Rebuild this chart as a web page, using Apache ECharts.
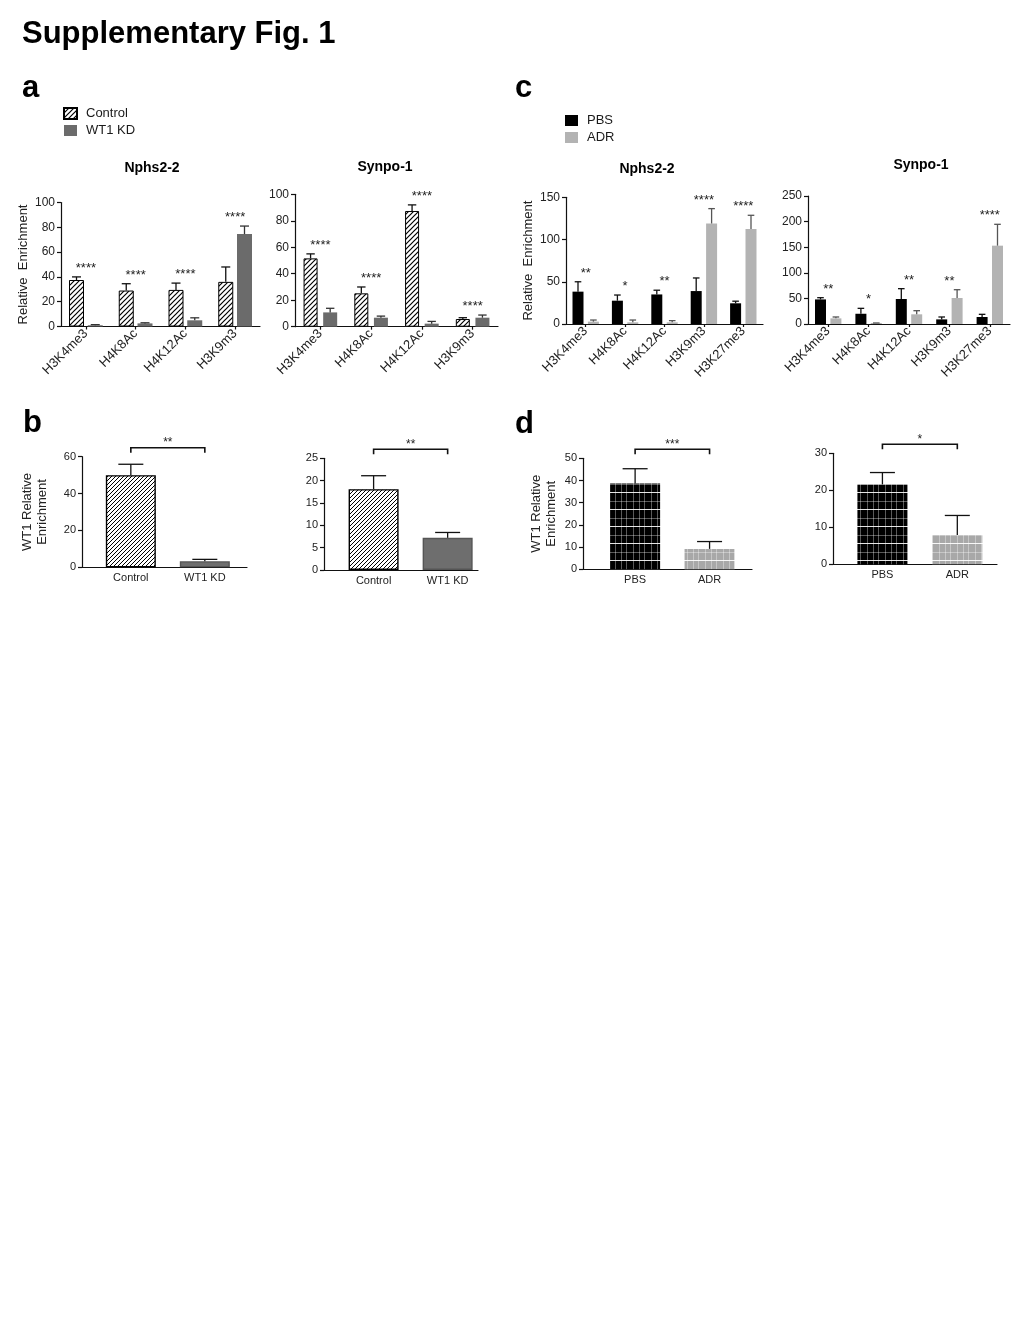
<!DOCTYPE html>
<html>
<head>
<meta charset="utf-8">
<title>Supplementary Fig. 1</title>
<script src="https://cdn.jsdelivr.net/npm/echarts@6.0.0/dist/echarts.min.js"></script>
<style>
  html, body { margin: 0; padding: 0; background: #fff; }
  #chart { width: 1020px; height: 1323px; }
</style>
</head>
<body>
<div id="chart"></div>
<script>
// categories
const histA = ['H3K4me3', 'H4K8Ac', 'H4K12Ac', 'H3K9m3']
const histC = ['H3K4me3', 'H4K8Ac', 'H4K12Ac', 'H3K9m3', 'H3K27me3']
const groupsB = ['Control', 'WT1 KD']
const groupsD = ['PBS', 'ADR']

// a - Nphs2-2
const aNphsCtrl = [37.5, 29, 29.5, 36]
const aNphsCtrlErr = [2.5, 5.5, 5.5, 12]
const aNphsKd = [1, 2.5, 5, 74.5]
const aNphsKdErr = [0.5, 0.5, 2, 6.5]
const aNphsSig = ['****', '****', '****', '****']
// a - Synpo-1
const aSynCtrl = [51.6, 25.2, 87.4, 5.8]
const aSynCtrlErr = [3.4, 4.8, 4.6, 1]
const aSynKd = [10.8, 6.8, 2.3, 6.8]
const aSynKdErr = [3.1, 1.2, 1.7, 2]
const aSynSig = ['****', '****', '****', '****']
// c - Nphs2-2
const cNphsPbs = [38.3, 27.6, 35, 39, 24.5]
const cNphsPbsErr = [11.7, 6.7, 5, 15.5, 2.5]
const cNphsAdr = [2.8, 2, 2, 119, 112.5]
const cNphsAdrErr = [1.9, 2.7, 2, 17.6, 16.2]
const cNphsSig = ['**', '*', '**', '****', '****']
// c - Synpo-1
const cSynPbs = [48, 20, 48.8, 9, 13.7]
const cSynPbsErr = [3.4, 10.6, 20.2, 4.7, 5.2]
const cSynAdr = [11, 2, 18.9, 50.8, 153]
const cSynAdrErr = [2.7, 0, 7.1, 16.2, 41.7]
const cSynSig = ['**', '*', '**', '**', '****']
// b - WT1 enrichment
const bLeftVals = [50, 3.3]
const bLeftErr = [5.9, 1.0]
const bRightVals = [18.1, 7.2]
const bRightErr = [3.0, 1.2]
const bSig = ['**', '**']
// d - WT1 enrichment
const dLeftVals = [38.7, 9.2]
const dLeftErr = [6.6, 3.3]
const dRightVals = [21.6, 7.9]
const dRightErr = [3.2, 5.3]
const dSig = ['***', '*']

// y axes: [min, max, step]
const aNphsY = [0, 100, 20]
const aSynY = [0, 100, 20]
const cNphsY = [0, 150, 50]
const cSynY = [0, 250, 50]
const bLeftY = [0, 60, 20]
const bRightY = [0, 25, 5]
const dLeftY = [0, 50, 10]
const dRightY = [0, 30, 10]

const FONT = "'Liberation Sans', Arial, Helvetica, sans-serif"
const AXIS = { color: '#111', width: 1.2 }

// fill patterns
const hatch = (size, lw) => {
  const c = document.createElement('canvas')
  c.width = size
  c.height = size
  const g = c.getContext('2d')
  g.fillStyle = '#fff'
  g.fillRect(0, 0, size, size)
  g.strokeStyle = '#000'
  g.lineWidth = lw
  g.beginPath()
  g.moveTo(0, size); g.lineTo(size, 0)
  g.moveTo(-size / 2, size / 2); g.lineTo(size / 2, -size / 2)
  g.moveTo(size / 2, size * 1.5); g.lineTo(size * 1.5, size / 2)
  g.stroke()
  return { image: c, repeat: 'repeat' }
}
const plaid = (bg) => {
  const c = document.createElement('canvas')
  c.width = 18
  c.height = 17
  const g = c.getContext('2d')
  g.fillStyle = bg
  g.fillRect(0, 0, 18, 17)
  g.fillStyle = 'rgba(255,255,255,0.35)'
  g.fillRect(3, 0, 1, 17)
  g.fillRect(9, 0, 1, 17)
  g.fillRect(14, 0, 1, 17)
  g.fillRect(0, 8, 18, 1)
  g.fillStyle = 'rgba(255,255,255,0.9)'
  g.fillRect(0, 16, 18, 1)
  return { image: c, repeat: 'repeat' }
}
const hatchA = hatch(5, 1.2)
const hatchB = hatch(4, 1)

const grids = [
  { left: 61, top: 202.5, width: 199, height: 124 },    // a Nphs2-2
  { left: 295, top: 194.3, width: 203, height: 132.4 }, // a Synpo-1
  { left: 566, top: 197.3, width: 197, height: 126.7 }, // c Nphs2-2
  { left: 808, top: 196, width: 202, height: 128 },     // c Synpo-1
  { left: 82, top: 456.7, width: 165, height: 110.6 },  // b left
  { left: 324, top: 458.3, width: 154, height: 111.7 }, // b right
  { left: 583, top: 458.3, width: 169, height: 111 },   // d left
  { left: 833, top: 453.3, width: 164, height: 111 }    // d right
].map(g => ({ ...g, outerBoundsMode: 'none', containLabel: false }))

const yAxisOf = (gi, ticks, fontSize, name, nameGap) => ({
  type: 'value',
  gridIndex: gi,
  min: ticks[0],
  max: ticks[1],
  interval: ticks[2],
  axisLine: { show: true, onZero: false, lineStyle: AXIS },
  axisTick: { show: true, length: 4, lineStyle: AXIS },
  axisLabel: { fontSize: fontSize, color: '#222', margin: 6, fontFamily: FONT },
  splitLine: { show: false },
  name: name || '',
  nameLocation: 'middle',
  nameRotate: 90,
  nameGap: nameGap || 0,
  nameTextStyle: { fontSize: 13, color: '#222', lineHeight: 15, fontFamily: FONT }
})

const catAxis = (gi, cats) => ({
  type: 'category',
  gridIndex: gi,
  data: cats,
  axisLine: { lineStyle: AXIS },
  axisTick: { show: true, alignWithLabel: true, length: 3, lineStyle: AXIS },
  axisLabel: { rotate: 45, interval: 0, fontSize: 13, color: '#222', margin: 5, fontFamily: FONT },
  splitLine: { show: false }
})

const pairAxis = (gi, cats, min, max) => ({
  type: 'value',
  gridIndex: gi,
  min: min,
  max: max,
  axisLine: { show: true, onZero: false, lineStyle: AXIS },
  axisTick: { show: false },
  splitLine: { show: false },
  axisLabel: {
    customValues: [0, 1],
    formatter: v => cats[Math.round(v)],
    fontSize: 11,
    color: '#222',
    margin: 5,
    fontFamily: FONT
  }
})

// upward error bars with a cap
const errorBars = (gi, vals, errs, shift, capW, color) => ({
  type: 'custom',
  xAxisIndex: gi,
  yAxisIndex: gi,
  z: 3,
  silent: true,
  data: vals.map((v, i) => [i, v, errs[i]]),
  renderItem: (params, api) => {
    const base = api.coord([api.value(0), api.value(1)])
    const top = api.coord([api.value(0), api.value(1) + api.value(2)])
    const x = base[0] + shift
    const style = { stroke: color, lineWidth: 1.3 }
    return {
      type: 'group',
      children: [
        { type: 'line', shape: { x1: x, y1: base[1], x2: x, y2: top[1] }, style },
        { type: 'line', shape: { x1: x - capW / 2, y1: top[1], x2: x + capW / 2, y2: top[1] }, style }
      ]
    }
  }
})

// significance stars over each group
const stars = (gi, sig, tops) => ({
  type: 'custom',
  xAxisIndex: gi,
  yAxisIndex: gi,
  z: 4,
  silent: true,
  data: tops.map((t, i) => [i, t]),
  renderItem: (params, api) => {
    const p = api.coord([api.value(0), api.value(1)])
    return {
      type: 'text',
      x: p[0],
      y: p[1] - 2,
      style: {
        text: sig[params.dataIndex],
        fill: '#222',
        font: '13px ' + FONT,
        textAlign: 'center',
        textVerticalAlign: 'bottom'
      }
    }
  }
})

// bracket between the two bars of panel b / d
const bracket = (gi, yMax, sig) => ({
  type: 'custom',
  xAxisIndex: gi,
  yAxisIndex: gi,
  z: 4,
  silent: true,
  data: [[0, yMax]],
  renderItem: (params, api) => {
    const a = api.coord([0, yMax])
    const b = api.coord([1, yMax])
    const y = a[1] - 9
    return {
      type: 'group',
      children: [
        {
          type: 'polyline',
          shape: { points: [[a[0], y + 5], [a[0], y], [b[0], y], [b[0], y + 5]] },
          style: { stroke: '#111', lineWidth: 1.6, fill: null }
        },
        {
          type: 'text',
          x: (a[0] + b[0]) / 2,
          y: y + 1,
          style: { text: sig, fill: '#222', font: '12px ' + FONT, textAlign: 'center', textVerticalAlign: 'bottom' }
        }
      ]
    }
  }
})

const tops = (v1, e1, v2, e2) => v1.map((v, i) => Math.max(v + e1[i], v2[i] + e2[i]))

// grouped panels (a, c)
const grouped = (gi, names, v1, e1, v2, e2, sig, barW, gapPct, style1, style2, errColors) => {
  const shift = (barW + barW * gapPct / 100) / 2
  return [
    { name: names[0], type: 'bar', xAxisIndex: gi, yAxisIndex: gi, data: v1, barWidth: barW, barGap: gapPct + '%', itemStyle: style1 },
    { name: names[1], type: 'bar', xAxisIndex: gi, yAxisIndex: gi, data: v2, barWidth: barW, barGap: gapPct + '%', itemStyle: style2 },
    errorBars(gi, v1, e1, -shift, barW * 0.6, errColors[0]),
    errorBars(gi, v2, e2, shift, barW * 0.6, errColors[1]),
    stars(gi, sig, tops(v1, e1, v2, e2))
  ]
}

// two-bar panels (b, d)
const pair = (gi, vals, errs, colors, borders, yMax, sig) => [
  {
    name: 'WT1 ' + gi,
    type: 'bar',
    xAxisIndex: gi,
    yAxisIndex: gi,
    barWidth: 50,
    data: vals.map((v, i) => ({
      value: [i, v],
      itemStyle: { color: colors[i], borderColor: borders[i], borderWidth: borders[i] ? 1.4 : 0 }
    }))
  },
  errorBars(gi, vals, errs, 0, 25, '#111'),
  bracket(gi, yMax, sig)
]

const ctrlStyle = { color: hatchA, borderColor: '#000', borderWidth: 1 }
const kdStyle = { color: '#6b6b6b' }
const pbsStyle = { color: '#000' }
const adrStyle = { color: '#b3b3b3' }

const texts = [
  { text: 'Supplementary Fig. 1', x: 22, y: 34, font: 'bold 31px ' + FONT, align: 'left' },
  { text: 'a', x: 22, y: 88, font: 'bold 31px ' + FONT, align: 'left' },
  { text: 'c', x: 515, y: 88, font: 'bold 31px ' + FONT, align: 'left' },
  { text: 'b', x: 23, y: 423, font: 'bold 31px ' + FONT, align: 'left' },
  { text: 'd', x: 515, y: 424, font: 'bold 31px ' + FONT, align: 'left' },
  { text: 'Nphs2-2', x: 152, y: 168, font: 'bold 14px ' + FONT, align: 'center' },
  { text: 'Synpo-1', x: 385, y: 167, font: 'bold 14px ' + FONT, align: 'center' },
  { text: 'Nphs2-2', x: 647, y: 169, font: 'bold 14px ' + FONT, align: 'center' },
  { text: 'Synpo-1', x: 921, y: 165, font: 'bold 14px ' + FONT, align: 'center' }
]

const legendOf = (names, left, top) => ({
  data: names,
  orient: 'vertical',
  left: left,
  top: top,
  padding: 0,
  itemGap: 4,
  itemWidth: 13,
  itemHeight: 11,
  icon: 'rect',
  textStyle: { fontSize: 13, color: '#1a1a1a', fontFamily: FONT, padding: [0, 0, 0, 4] }
})

const chart = echarts.init(document.getElementById('chart'), null, { renderer: 'canvas' })

const option = {
  animation: false,
  backgroundColor: '#fff',
  textStyle: { fontFamily: FONT },
  graphic: texts.map(t => ({
    type: 'text',
    x: t.x,
    y: t.y,
    style: { text: t.text, font: t.font, fill: '#000', textAlign: t.align, textVerticalAlign: 'middle' }
  })),
  legend: [
    legendOf(['Control', 'WT1 KD'], 63, 107),
    legendOf(['PBS', 'ADR'], 565, 114)
  ],
  grid: grids,
  xAxis: [
    catAxis(0, histA),
    catAxis(1, histA),
    catAxis(2, histC),
    catAxis(3, histC),
    pairAxis(4, groupsB, -0.66, 1.57),
    pairAxis(5, groupsB, -0.67, 1.41),
    pairAxis(6, groupsD, -0.70, 1.57),
    pairAxis(7, groupsD, -0.66, 1.53)
  ],
  yAxis: [
    yAxisOf(0, aNphsY, 12, 'Relative  Enrichment', 23),
    yAxisOf(1, aSynY, 12),
    yAxisOf(2, cNphsY, 12, 'Relative  Enrichment', 29),
    yAxisOf(3, cSynY, 12),
    yAxisOf(4, bLeftY, 11, 'WT1 Relative\nEnrichment', 32),
    yAxisOf(5, bRightY, 11),
    yAxisOf(6, dLeftY, 11, 'WT1 Relative\nEnrichment', 24),
    yAxisOf(7, dRightY, 11)
  ],
  series: [
    ...grouped(0, ['Control', 'WT1 KD'], aNphsCtrl, aNphsCtrlErr, aNphsKd, aNphsKdErr, aNphsSig, 15, 25, ctrlStyle, kdStyle, ['#111', '#333']),
    ...grouped(1, ['Control', 'WT1 KD'], aSynCtrl, aSynCtrlErr, aSynKd, aSynKdErr, aSynSig, 14, 40, ctrlStyle, kdStyle, ['#111', '#333']),
    ...grouped(2, ['PBS', 'ADR'], cNphsPbs, cNphsPbsErr, cNphsAdr, cNphsAdrErr, cNphsSig, 11, 40, pbsStyle, adrStyle, ['#111', '#555']),
    ...grouped(3, ['PBS', 'ADR'], cSynPbs, cSynPbsErr, cSynAdr, cSynAdrErr, cSynSig, 11, 40, pbsStyle, adrStyle, ['#111', '#555']),
    ...pair(4, bLeftVals, bLeftErr, [hatchB, '#6e6e6e'], ['#000', '#555'], bLeftY[1], bSig[0]),
    ...pair(5, bRightVals, bRightErr, [hatchB, '#6e6e6e'], ['#000', '#555'], bRightY[1], bSig[1]),
    ...pair(6, dLeftVals, dLeftErr, [plaid('#000'), plaid('#a8a8a8')], [null, null], dLeftY[1], dSig[0]),
    ...pair(7, dRightVals, dRightErr, [plaid('#000'), plaid('#a8a8a8')], [null, null], dRightY[1], dSig[1])
  ]
}

chart.setOption(option)

window.addEventListener('resize', () => {
  chart.resize()
})
</script>
</body>
</html>
